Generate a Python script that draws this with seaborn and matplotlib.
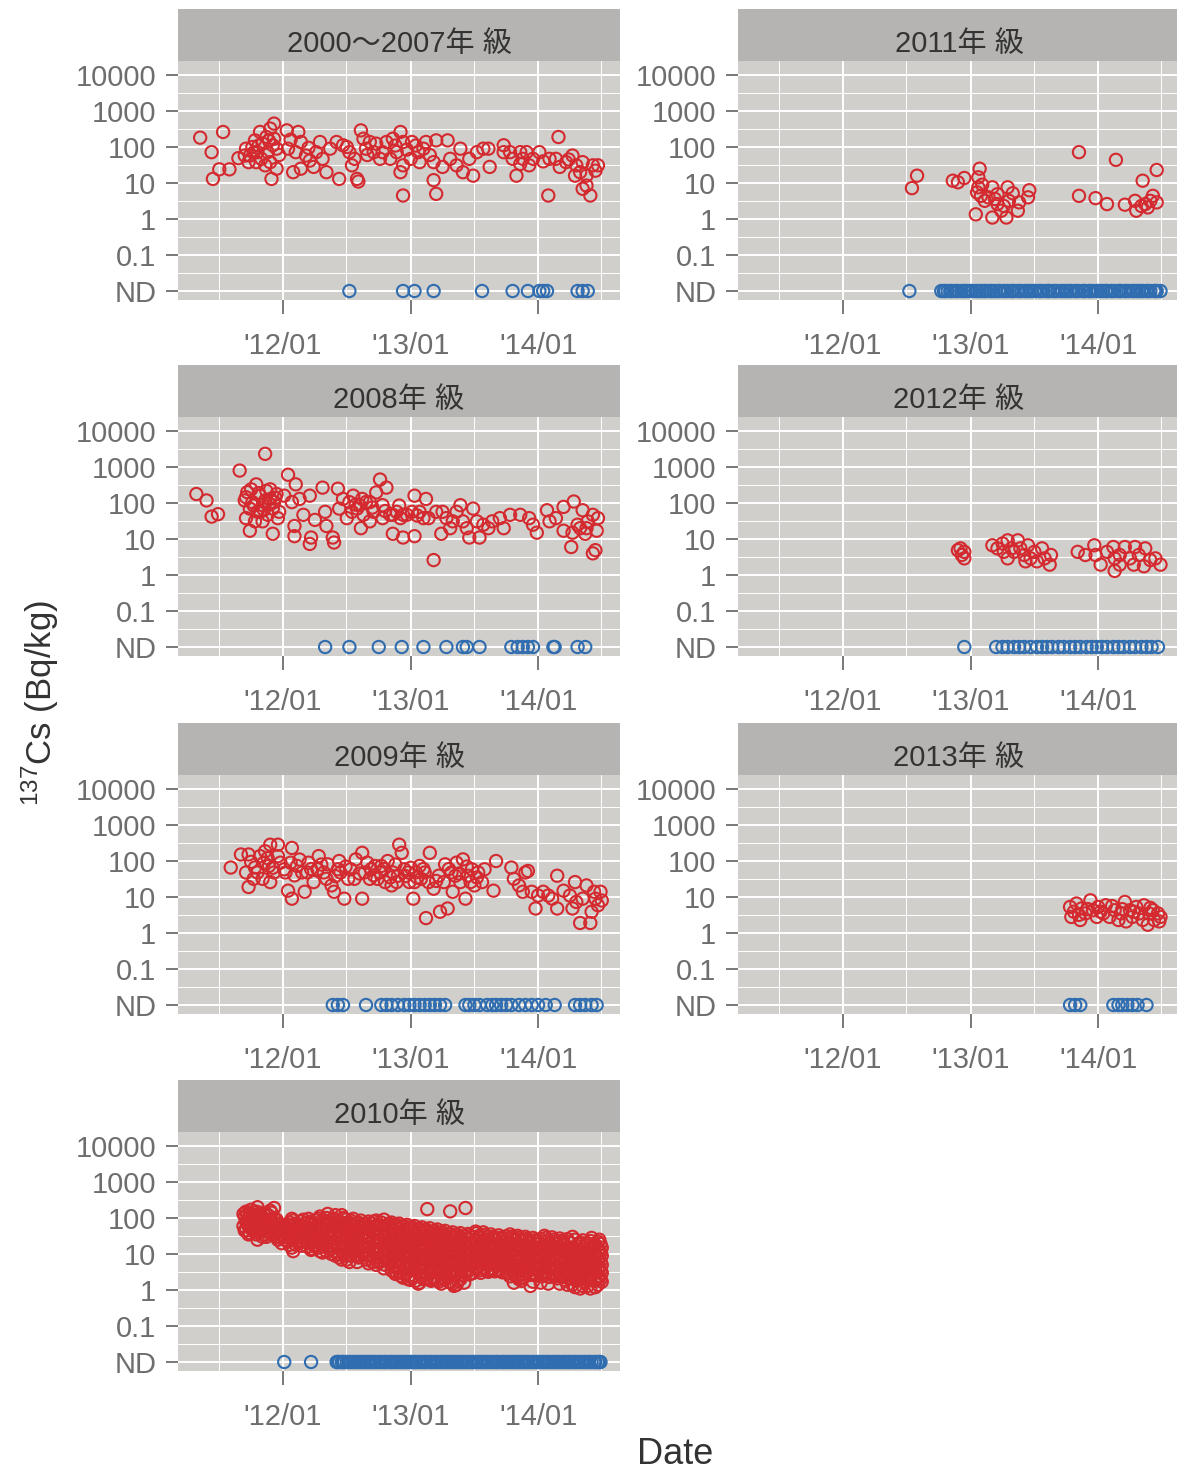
import numpy as np
import pandas as pd
import matplotlib
matplotlib.use("Agg")
import matplotlib.pyplot as plt
import matplotlib.dates as mdates
from matplotlib.ticker import FixedLocator, NullFormatter
import seaborn as sns

# ---------------- data (decimal year, Bq/kg) ----------------
ND_LEVEL = 0.01
panel_names = ["2000～2007年 級", "2008年 級", "2009年 級", "2010年 級",
               "2011年 級", "2012年 級", "2013年 級"]
y_ticks = [0.01, 0.1, 1, 10, 100, 1000, 10000]
y_tick_labels = ["ND", "0.1", "1", "10", "100", "1000", "10000"]

red_2000_2007 = [
    (2011.35, 182), (2011.53, 262), (2011.44, 72), (2011.45, 13), (2011.50, 24), (2011.58, 24),
    (2011.65, 49), (2011.71, 90), (2011.74, 58), (2011.78, 153), (2011.80, 72), (2011.82, 262),
    (2011.84, 124), (2011.87, 190), (2011.90, 325), (2011.93, 447), (2011.93, 170), (2011.95, 90),
    (2011.90, 38), (2011.91, 13), (2011.86, 31), (2011.79, 38), (2011.73, 38), (2011.95, 25),
    (2011.76, 100), (2011.83, 47), (2011.70, 58), (2011.88, 72), (2011.92, 112),
    (2012.03, 290), (2012.12, 262), (2012.04, 90), (2012.10, 72), (2012.14, 138), (2012.18, 58),
    (2012.21, 42), (2012.26, 72), (2012.29, 138), (2012.24, 28), (2012.08, 20), (2012.14, 25),
    (2012.34, 20), (2012.37, 90), (2012.42, 138), (2012.44, 13), (2012.47, 112), (2012.52, 72),
    (2012.54, 31), (2012.58, 13), (2012.59, 11), (2012.61, 290), (2012.63, 170), (2012.65, 90),
    (2012.68, 138), (2012.71, 72), (2012.73, 124), (2012.78, 72), (2012.81, 138), (2012.84, 47),
    (2012.86, 170), (2012.89, 72), (2012.92, 262), (2012.94, 138), (2012.94, 31), (2012.94, 4.5),
    (2012.92, 20), (2013.00, 47), (2013.01, 138), (2013.06, 72), (2013.10, 90), (2013.12, 138),
    (2013.18, 38), (2013.20, 153), (2013.18, 12), (2013.20, 5), (2013.25, 28), (2013.29, 153),
    (2013.31, 47), (2013.36, 31), (2013.39, 90), (2013.41, 20), (2013.46, 47), (2013.49, 16),
    (2013.52, 72), (2013.57, 90), (2013.61, 90), (2013.62, 28), (2013.73, 112), (2013.73, 72),
    (2013.78, 72), (2013.80, 47), (2013.83, 16), (2013.86, 72), (2013.88, 47), (2013.91, 72),
    (2013.93, 31), (2013.96, 47), (2014.01, 72), (2014.08, 4.5), (2014.16, 190), (2014.14, 47),
    (2014.17, 28), (2014.22, 38), (2014.27, 58), (2014.30, 31), (2014.33, 20), (2014.35, 38),
    (2014.38, 16), (2014.38, 8.5), (2014.41, 4.5), (2014.43, 31), (2014.47, 31), (2014.35, 6.9),
    (2014.29, 16), (2014.09, 47), (2012.76, 47), (2013.07, 38), (2013.86, 34), (2012.56, 47),
    (2012.31, 47), (2011.77, 70), (2011.81, 110), (2011.89, 150), (2011.97, 60), (2012.06, 160),
    (2012.20, 95), (2012.50, 100), (2012.66, 60), (2012.88, 110), (2012.97, 85), (2013.04, 110),
    (2013.15, 60), (2014.04, 40), (2014.24, 45), (2014.45, 22)]
nd_2000_2007 = [2012.52, 2012.94, 2013.03, 2013.18, 2013.56, 2013.80, 2013.92, 2014.01,
                2014.04, 2014.07, 2014.31, 2014.35, 2014.39]

red_2008 = [
    (2011.32, 178), (2011.40, 118), (2011.44, 42), (2011.49, 49), (2011.66, 798), (2011.86, 2323),
    (2011.71, 145), (2011.74, 70), (2011.74, 17), (2011.76, 106), (2011.79, 330), (2011.80, 57),
    (2011.82, 160), (2011.84, 87), (2011.87, 218), (2011.88, 47), (2011.90, 130), (2011.92, 70),
    (2011.92, 14), (2011.95, 178), (2011.96, 38), (2011.71, 38), (2011.78, 31), (2011.84, 31),
    (2012.01, 160), (2012.04, 611), (2012.07, 106), (2012.10, 330), (2012.09, 23), (2012.09, 12),
    (2012.13, 130), (2012.16, 47), (2012.21, 160), (2012.22, 11), (2012.21, 7.3), (2012.25, 34),
    (2012.31, 268), (2012.33, 57), (2012.34, 23), (2012.39, 11), (2012.40, 8), (2012.43, 250),
    (2012.44, 70), (2012.47, 130), (2012.50, 38), (2012.52, 106), (2012.55, 160), (2012.58, 70),
    (2012.60, 87), (2012.61, 20), (2012.63, 47), (2012.68, 106), (2012.71, 57), (2012.73, 197),
    (2012.76, 450), (2012.78, 87), (2012.81, 268), (2012.84, 47), (2012.86, 14), (2012.89, 57),
    (2012.92, 38), (2012.94, 11), (2012.97, 47), (2013.03, 160), (2013.03, 12), (2013.07, 57),
    (2013.12, 130), (2013.14, 38), (2013.18, 2.6), (2013.20, 57), (2013.24, 14), (2013.28, 38),
    (2013.31, 20), (2013.36, 57), (2013.39, 87), (2013.41, 31), (2013.44, 20), (2013.46, 11),
    (2013.49, 70), (2013.52, 31), (2013.54, 11), (2013.57, 25), (2013.61, 20), (2013.64, 31),
    (2013.70, 38), (2013.73, 20), (2013.78, 47), (2013.86, 47), (2013.93, 38), (2013.99, 15),
    (2013.96, 25), (2014.07, 63), (2014.09, 31), (2014.14, 38), (2014.20, 17), (2014.20, 78),
    (2014.26, 6), (2014.27, 15), (2014.28, 110), (2014.31, 25), (2014.35, 63), (2014.37, 14),
    (2014.39, 31), (2014.43, 47), (2014.45, 4.9), (2014.46, 17), (2014.47, 38), (2014.43, 4.0),
    (2014.38, 20), (2014.33, 20), (2011.70, 118), (2011.75, 240), (2011.82, 57), (2011.86, 118),
    (2011.90, 240), (2011.93, 106), (2011.97, 57), (2012.54, 57), (2012.65, 106), (2012.68, 31),
    (2012.78, 38), (2012.86, 47), (2012.94, 47), (2013.01, 57), (2013.10, 38), (2013.25, 57),
    (2013.33, 31), (2011.72, 200), (2011.77, 85), (2011.81, 190), (2011.85, 65), (2011.89, 95),
    (2011.94, 140), (2012.57, 90), (2012.62, 130), (2012.70, 75), (2012.80, 60), (2012.91, 85),
    (2013.05, 45)]
nd_2008 = [2012.33, 2012.52, 2012.75, 2012.93, 2013.10, 2013.28, 2013.41, 2013.44, 2013.54,
           2013.79, 2013.84, 2013.88, 2013.92, 2013.96, 2014.12, 2014.13, 2014.31, 2014.37]

red_2009 = [
    (2011.59, 66), (2011.67, 152), (2011.73, 152), (2011.71, 48), (2011.73, 19), (2011.78, 66),
    (2011.82, 137), (2011.86, 187), (2011.90, 284), (2011.96, 284), (2011.89, 73), (2011.93, 48),
    (2011.90, 26), (2011.84, 32), (2011.77, 32), (2011.98, 90), (2012.02, 48), (2012.04, 15),
    (2012.07, 231), (2012.07, 9), (2012.11, 73), (2012.15, 48), (2012.17, 14), (2012.20, 90),
    (2012.24, 26), (2012.28, 137), (2012.32, 48), (2012.35, 81), (2012.38, 21), (2012.40, 14),
    (2012.43, 59), (2012.44, 100), (2012.48, 9), (2012.51, 32), (2012.53, 59), (2012.57, 111),
    (2012.62, 169), (2012.62, 9), (2012.64, 48), (2012.68, 32), (2012.72, 73), (2012.76, 48),
    (2012.80, 26), (2012.82, 100), (2012.86, 48), (2012.89, 26), (2012.91, 284), (2012.93, 169),
    (2012.95, 59), (2012.99, 26), (2013.02, 9), (2013.04, 48), (2013.08, 32), (2013.11, 48),
    (2013.15, 169), (2013.12, 2.6), (2013.18, 17), (2013.22, 39), (2013.23, 3.9), (2013.27, 81),
    (2013.29, 4.8), (2013.32, 48), (2013.33, 14), (2013.36, 90), (2013.39, 26), (2013.41, 111),
    (2013.43, 9), (2013.45, 39), (2013.48, 59), (2013.50, 21), (2013.53, 48), (2013.56, 26),
    (2013.65, 15), (2013.67, 100), (2013.79, 66), (2013.81, 32), (2013.85, 21), (2013.90, 48),
    (2013.92, 53), (2013.88, 14), (2013.95, 14), (2013.98, 4.8), (2014.00, 11), (2014.04, 14),
    (2014.08, 11), (2014.11, 9), (2014.15, 39), (2014.15, 4.8), (2014.20, 15), (2014.25, 11),
    (2014.27, 4.8), (2014.29, 26), (2014.30, 7.3), (2014.33, 1.9), (2014.35, 9), (2014.38, 21),
    (2014.41, 1.9), (2014.42, 3.9), (2014.45, 9), (2014.47, 5.9), (2014.49, 14), (2014.44, 14),
    (2014.50, 8), (2011.80, 48), (2011.85, 90), (2011.96, 137), (2012.01, 59), (2012.06, 90),
    (2012.19, 48), (2012.27, 59), (2012.34, 32), (2012.45, 48), (2012.56, 32), (2012.69, 59),
    (2012.74, 32), (2012.77, 73), (2012.85, 21), (2012.90, 39), (2012.98, 48), (2013.03, 26),
    (2013.07, 73), (2013.14, 26), (2013.26, 26), (2013.35, 39), (2013.47, 26), (2013.58, 59),
    (2011.75, 95), (2011.88, 120), (2011.92, 65), (2012.09, 40), (2012.13, 110), (2012.22, 60),
    (2012.30, 80), (2012.41, 38), (2012.49, 70), (2012.60, 45), (2012.66, 90), (2012.71, 40),
    (2012.79, 60), (2012.84, 35), (2012.88, 80), (2012.96, 38), (2013.00, 65), (2013.05, 35),
    (2013.10, 60), (2013.20, 28), (2013.30, 60), (2013.38, 45), (2013.44, 70), (2013.52, 35)]
nd_2009 = [2012.39, 2012.43, 2012.47, 2012.65, 2012.77, 2012.81, 2012.85, 2012.90, 2012.95,
           2012.99, 2013.03, 2013.07, 2013.11, 2013.15, 2013.19, 2013.23, 2013.27, 2013.43,
           2013.46, 2013.50, 2013.54, 2013.60, 2013.64, 2013.67, 2013.71, 2013.75, 2013.79,
           2013.85, 2013.90, 2013.95, 2014.00, 2014.06, 2014.13, 2014.29, 2014.33, 2014.37,
           2014.42, 2014.46]

# 2010: several measurements per sampling date
red_2010 = [
    (2011.69, (130, 60)), (2011.71, (150, 80, 45)), (2011.73, (100, 60, 35)),
    (2011.75, (170, 90, 50)), (2011.78, (120, 70, 40)), (2011.80, (200, 110, 55, 25)),
    (2011.82, (140, 75, 45)), (2011.85, (95, 60, 35)), (2011.87, (130, 70, 30)),
    (2011.90, (160, 85, 50)), (2011.93, (190, 100, 45)), (2011.96, (70, 40, 25)),
    (2011.99, (55, 35, 20)), (2012.02, (60, 40, 25)), (2012.05, (75, 45, 28, 18)),
    (2012.08, (85, 50, 30, 12)), (2012.11, (60, 38, 22)), (2012.14, (80, 45, 30, 17)),
    (2012.17, (70, 42, 25)), (2012.20, (95, 55, 32, 20)), (2012.23, (65, 40, 24, 14)),
    (2012.26, (85, 50, 30, 18)), (2012.29, (110, 60, 35, 20, 12)), (2012.32, (75, 45, 27, 16)),
    (2012.35, (130, 70, 40, 22)), (2012.38, (90, 55, 30, 18, 10)), (2012.41, (120, 60, 35, 20, 9)),
    (2012.44, (80, 48, 28, 15, 8)), (2012.47, (100, 55, 32, 18, 10)), (2012.50, (70, 42, 25, 14, 7)),
    (2012.53, (85, 50, 30, 17, 9)), (2012.56, (65, 40, 22, 12)), (2012.59, (75, 45, 26, 15, 8)),
    (2012.62, (60, 36, 20, 11)), (2012.65, (70, 42, 24, 13, 7)), (2012.68, (55, 33, 19, 10)),
    (2012.71, (80, 45, 26, 14, 8)), (2012.74, (65, 38, 22, 12, 6)), (2012.77, (75, 42, 24, 13, 7)),
    (2012.80, (60, 35, 20, 11, 5)), (2012.83, (70, 40, 22, 12, 6)), (2012.86, (55, 32, 18, 10, 4.5)),
    (2012.89, (65, 36, 20, 11, 5, 3)), (2012.92, (50, 30, 17, 9, 4, 2.5)),
    (2012.95, (60, 34, 19, 10, 5, 2.8)), (2012.98, (45, 27, 15, 8, 4, 2)),
    (2013.01, (55, 30, 17, 9, 4.5, 2.2)), (2013.04, (40, 24, 13, 7, 3.5, 1.8)),
    (2013.07, (50, 28, 15, 8, 4, 1.6)), (2013.10, (42, 25, 14, 7, 3.5, 2)),
    (2013.13, (177, 45, 26, 14, 7, 3)), (2013.16, (38, 22, 12, 6, 3, 1.8)),
    (2013.19, (44, 25, 13, 7, 3.5, 2)), (2013.22, (35, 20, 11, 6, 3, 1.7)),
    (2013.25, (40, 23, 12, 6.5, 3.2, 2.2)), (2013.28, (32, 19, 10, 5.5, 2.8)),
    (2013.31, (153, 36, 20, 11, 6, 3, 1.6)), (2013.34, (30, 17, 9.5, 5, 2.5, 1.3)),
    (2013.37, (34, 19, 10, 5.5, 3, 1.8)), (2013.40, (28, 16, 9, 5, 2.6)),
    (2013.43, (190, 32, 18, 10, 5.5, 3)), (2013.46, (26, 15, 8.5, 4.8, 2.7)),
    (2013.49, (30, 17, 9.5, 5.2, 3)), (2013.52, (38, 22, 12, 7, 4)), (2013.55, (28, 16, 9, 5, 3)),
    (2013.58, (34, 20, 11, 6.5, 3.8)), (2013.61, (25, 15, 8.5, 5, 3.2)),
    (2013.64, (30, 18, 10, 6, 3.5)), (2013.67, (24, 14, 8, 4.8)), (2013.70, (28, 17, 10, 5.5, 3.4)),
    (2013.73, (22, 13, 7.5, 4.5)), (2013.76, (26, 15, 9, 5.2, 3)), (2013.79, (30, 18, 10, 5.8, 3.5)),
    (2013.82, (24, 14, 8, 4.5, 2.5)), (2013.85, (28, 16, 9, 5, 2)), (2013.88, (22, 13, 7.5, 4, 2.2)),
    (2013.91, (26, 15, 8.5, 4.8, 3)), (2013.94, (20, 12, 7, 4, 1.3)), (2013.97, (24, 14, 8, 4.5, 2.6)),
    (2014.00, (19, 11, 6.5, 3.8)), (2014.03, (22, 13, 7.5, 4.2, 2.4)), (2014.06, (28, 16, 9, 5, 2.8)),
    (2014.09, (20, 12, 7, 4, 2.3)), (2014.12, (25, 14, 8, 4.5, 2.5)), (2014.15, (19, 11, 6.5, 3.7, 2.1)),
    (2014.18, (23, 13, 7.5, 4.2, 2.4)), (2014.21, (18, 10, 6, 3.5, 1.9)), (2014.24, (22, 12, 7, 4, 2.2)),
    (2014.27, (30, 14, 8, 4.5, 2.5, 1.4)), (2014.30, (17, 10, 5.8, 3.3, 1.8)),
    (2014.33, (21, 12, 6.8, 3.9, 2.2, 1.1)), (2014.36, (16, 9.5, 5.5, 3.1, 1.7)),
    (2014.39, (20, 11, 6.5, 3.7, 2.1, 1.3)), (2014.42, (28, 15, 8.5, 4.8, 2.7)),
    (2014.45, (18, 10, 6, 3.4, 1.9, 1.2)), (2014.48, (25, 13, 7.5, 4.2, 2.3)),
    (2014.50, (15, 9, 5, 3, 1.7))]
red_2010_more = [
    (2011.70, (110, 45)), (2011.72, (125, 70)), (2011.74, (140, 55, 38)), (2011.77, (110, 65)),
    (2011.79, (150, 85, 35)), (2011.81, (120, 60)), (2011.84, (105, 50, 30)), (2011.86, (85, 45)),
    (2011.89, (115, 65, 40)), (2011.91, (140, 75, 35)), (2011.95, (90, 55, 30)),
    (2011.98, (65, 45, 28)), (2012.00, (50, 30)), (2012.04, (65, 50, 33, 22)),
    (2012.07, (95, 60, 38, 15)), (2012.10, (70, 45, 28, 18)), (2012.13, (65, 52, 35, 21)),
    (2012.16, (90, 58, 36, 22)), (2012.19, (75, 48, 28, 16)), (2012.22, (80, 50, 35, 22, 13)),
    (2012.25, (70, 44, 26, 16)), (2012.28, (95, 58, 40, 25, 15)), (2012.31, (85, 52, 32, 19, 11)),
    (2012.34, (100, 62, 35, 20, 12)), (2012.37, (75, 45, 26, 14)), (2012.40, (95, 58, 38, 22, 12)),
    (2012.43, (70, 42, 26, 15, 10)), (2012.46, (120, 75, 40, 22, 12, 7)),
    (2012.49, (90, 52, 30, 17, 9)), (2012.52, (75, 40, 22, 12, 6)), (2012.55, (95, 60, 35, 20, 11)),
    (2012.58, (70, 48, 28, 16, 9, 6)), (2012.61, (85, 52, 30, 17, 9)), (2012.64, (65, 40, 23, 13, 8)),
    (2012.67, (80, 48, 28, 16, 9, 5.5)), (2012.70, (70, 40, 22, 12, 6)),
    (2012.73, (85, 50, 30, 17, 10, 5)), (2012.76, (60, 35, 20, 11, 6)),
    (2012.79, (90, 50, 28, 15, 8, 4)), (2012.82, (65, 38, 21, 12, 6.5)),
    (2012.85, (75, 45, 26, 14, 7, 3.5)), (2012.88, (60, 34, 19, 10, 5, 2.8)),
    (2012.91, (70, 40, 23, 12, 6, 3.2)), (2012.94, (55, 32, 18, 9.5, 4.8, 2.2)),
    (2012.97, (65, 38, 21, 11, 5.5, 3)), (2013.00, (50, 28, 16, 8.5, 4, 1.9)),
    (2013.03, (60, 34, 19, 10, 5, 2.5)), (2013.06, (45, 26, 14, 7.5, 3.8, 1.5)),
    (2013.09, (55, 31, 17, 9, 4.5, 2.3)), (2013.12, (48, 28, 15, 8, 4, 2.1)),
    (2013.15, (52, 30, 16, 8.5, 4.2, 2)), (2013.18, (42, 24, 13, 7, 3.6, 2.2)),
    (2013.21, (48, 27, 14, 7.5, 4, 1.9)), (2013.24, (38, 22, 12, 6.5, 3.4, 1.5)),
    (2013.27, (44, 25, 13, 7, 3.8, 2)), (2013.30, (36, 21, 11, 6, 3.2, 1.7)),
    (2013.33, (40, 23, 12, 6.5, 3.5, 1.5)), (2013.36, (33, 19, 10.5, 5.8, 3.1, 1.4)),
    (2013.39, (38, 21, 11.5, 6.2, 3.4, 2)), (2013.42, (31, 18, 10, 5.5, 3, 1.6)),
    (2013.45, (36, 20, 11, 6, 3.3)), (2013.48, (29, 17, 9.5, 5.2, 2.9)),
    (2013.51, (42, 25, 14, 8, 4.5)), (2013.54, (32, 19, 10.5, 6, 3.5)),
    (2013.57, (40, 23, 13, 7.5, 4.2)), (2013.60, (30, 18, 10, 5.8, 3.4)),
    (2013.63, (35, 21, 12, 7, 4)), (2013.66, (28, 16, 9.5, 5.5, 3.3)),
    (2013.69, (33, 19, 11, 6.2, 3.7)), (2013.72, (26, 15, 9, 5.2, 3.1)),
    (2013.75, (31, 18, 10.5, 6, 3.5)), (2013.78, (35, 20, 11.5, 6.5, 3.8, 2.4)),
    (2013.81, (27, 16, 9.2, 5.3, 3.1, 1.6)), (2013.84, (32, 18, 10.5, 6, 3.4, 2.3)),
    (2013.87, (25, 15, 8.5, 4.8, 2.8, 1.8)), (2013.90, (30, 17, 9.8, 5.6, 3.2)),
    (2013.93, (23, 14, 8, 4.5, 2.6)), (2013.96, (28, 16, 9.2, 5.2, 3, 1.7)),
    (2013.99, (22, 13, 7.5, 4.3, 2.5)), (2014.02, (26, 15, 8.6, 4.9, 2.8, 1.6)),
    (2014.05, (32, 18, 10, 5.8, 3.3)), (2014.08, (24, 14, 8, 4.6, 2.7, 1.5)),
    (2014.11, (29, 16, 9.2, 5.2, 3)), (2014.14, (22, 13, 7.5, 4.3, 2.4)),
    (2014.17, (27, 15, 8.6, 4.9, 2.8, 1.5)), (2014.20, (21, 12, 7, 4, 2.3)),
    (2014.23, (26, 14, 8.2, 4.6, 2.6, 1.4)), (2014.26, (20, 11.5, 6.6, 3.8, 2.1)),
    (2014.29, (25, 13, 7.6, 4.3, 2.4, 1.2)), (2014.32, (19, 11, 6.3, 3.6, 2)),
    (2014.35, (24, 13, 7.3, 4.1, 2.3, 1.3)), (2014.38, (18, 10.5, 6, 3.4, 1.9)),
    (2014.41, (23, 12.5, 7.2, 4, 2.3, 1.1)), (2014.44, (17, 10, 5.7, 3.2, 1.8)),
    (2014.47, (22, 12, 7, 3.9, 2.2, 1.4)), (2014.49, (19, 11, 6.2, 3.5, 2))]
nd_2010 = [2012.01, 2012.22, 2012.42, 2012.44, 2012.47, 2012.48, 2012.50, 2012.53, 2012.55,
           2012.56, 2012.58, 2012.61, 2012.63, 2012.64, 2012.66, 2012.69, 2012.71, 2012.72,
           2012.74, 2012.77, 2012.79, 2012.80, 2012.82, 2012.85, 2012.87, 2012.88, 2012.90,
           2012.93, 2012.95, 2012.96, 2012.98, 2013.01, 2013.03, 2013.04, 2013.06, 2013.09,
           2013.11, 2013.12, 2013.14, 2013.17, 2013.19, 2013.20, 2013.22, 2013.25, 2013.27,
           2013.28, 2013.30, 2013.33, 2013.35, 2013.36, 2013.38, 2013.41, 2013.43, 2013.44,
           2013.46, 2013.49, 2013.51, 2013.52, 2013.54, 2013.57, 2013.59, 2013.60, 2013.62,
           2013.65, 2013.67, 2013.68, 2013.70, 2013.73, 2013.75, 2013.76, 2013.78, 2013.81,
           2013.83, 2013.84, 2013.86, 2013.89, 2013.91, 2013.92, 2013.94, 2013.97, 2013.99,
           2014.00, 2014.02, 2014.05, 2014.07, 2014.08, 2014.10, 2014.13, 2014.15, 2014.16,
           2014.18, 2014.21, 2014.23, 2014.24, 2014.26, 2014.29, 2014.31, 2014.32, 2014.34,
           2014.37, 2014.39, 2014.40, 2014.42, 2014.45, 2014.47, 2014.48, 2014.49,
           2012.43, 2012.46, 2012.52, 2012.60, 2012.68, 2012.76, 2012.84, 2012.92, 2013.00,
           2013.08, 2013.16, 2013.24, 2013.32, 2013.40, 2013.48, 2013.56, 2013.64, 2013.72,
           2013.80, 2013.88, 2013.96, 2014.04, 2014.12, 2014.20, 2014.28, 2014.36, 2014.44]

red_2011 = [
    (2012.54, 7.2), (2012.58, 16), (2012.86, 11.6), (2012.90, 10.5), (2012.95, 13.8),
    (2013.07, 25), (2013.06, 14.4), (2013.06, 7.6), (2013.04, 1.35), (2013.08, 4.4),
    (2013.11, 3.2), (2013.17, 7.6), (2013.17, 1.1), (2013.21, 2.6), (2013.24, 1.7),
    (2013.29, 7.6), (2013.30, 3.2), (2013.28, 1.1), (2013.37, 1.7), (2013.38, 2.9),
    (2013.45, 4.0), (2013.46, 6.3), (2013.14, 4.0), (2013.21, 4.9), (2013.26, 2.3),
    (2013.85, 72), (2013.85, 4.4), (2013.98, 3.8), (2014.07, 2.6), (2014.14, 44),
    (2014.21, 2.5), (2014.29, 3.2), (2014.30, 1.7), (2014.35, 11.6), (2014.37, 2.6),
    (2014.39, 2.1), (2014.46, 23), (2014.43, 4.4), (2014.46, 2.9), (2014.41, 3.2),
    (2014.34, 2.3), (2013.05, 5.5), (2013.09, 9), (2013.19, 3.6), (2013.33, 5.2)]
nd_2011 = [2012.52, 2012.77, 2012.79, 2012.82, 2012.85, 2012.87, 2012.90, 2012.93, 2012.96,
           2012.98, 2013.01, 2013.04, 2013.07, 2013.09, 2013.12, 2013.15, 2013.18, 2013.20,
           2013.23, 2013.26, 2013.29, 2013.32, 2013.34, 2013.37, 2013.40, 2013.43, 2013.46,
           2013.48, 2013.51, 2013.54, 2013.57, 2013.60, 2013.62, 2013.65, 2013.68, 2013.71,
           2013.74, 2013.76, 2013.79, 2013.82, 2013.85, 2013.88, 2013.90, 2013.93, 2013.96,
           2013.99, 2014.02, 2014.04, 2014.07, 2014.10, 2014.13, 2014.16, 2014.18, 2014.21,
           2014.24, 2014.27, 2014.30, 2014.32, 2014.35, 2014.38, 2014.41, 2014.44, 2014.46,
           2014.49, 2012.80, 2012.84, 2012.89, 2012.95, 2013.00, 2013.05, 2013.11, 2013.16,
           2013.22, 2013.27, 2013.33, 2013.38, 2013.44, 2013.50, 2013.55, 2013.61, 2013.66,
           2013.72, 2013.78, 2013.83, 2013.89, 2013.94, 2014.00, 2014.06, 2014.11, 2014.17,
           2014.22, 2014.28, 2014.34, 2014.39, 2014.45]

red_2012 = [
    (2012.90, 4.9), (2012.93, 3.6), (2012.95, 4.4), (2012.95, 2.9), (2012.92, 5.5),
    (2013.17, 6.7), (2013.21, 5.5), (2013.25, 7.5), (2013.29, 9.2), (2013.32, 5.5),
    (2013.29, 2.9), (2013.34, 4.4), (2013.37, 9.2), (2013.39, 5.5), (2013.42, 3.6),
    (2013.45, 6.7), (2013.47, 2.9), (2013.50, 4.4), (2013.52, 2.4), (2013.56, 5.5),
    (2013.58, 2.9), (2013.62, 1.94), (2013.63, 3.6), (2013.26, 4.4), (2013.43, 2.4),
    (2013.84, 4.4), (2013.90, 3.6), (2013.97, 6.7), (2013.98, 3.6), (2014.02, 1.94),
    (2014.07, 4.4), (2014.12, 6.0), (2014.13, 2.9), (2014.13, 1.3), (2014.17, 3.6),
    (2014.21, 6.0), (2014.25, 2.9), (2014.29, 6.0), (2014.32, 3.6), (2014.36, 1.75),
    (2014.37, 5.5), (2014.41, 2.6), (2014.45, 2.9), (2014.49, 1.94), (2014.17, 1.94),
    (2014.28, 1.94)]
nd_2012 = [2012.95, 2013.20, 2013.25, 2013.29, 2013.34, 2013.38, 2013.42, 2013.47, 2013.52,
           2013.56, 2013.60, 2013.64, 2013.69, 2013.73, 2013.78, 2013.82, 2013.86, 2013.91,
           2013.95, 2013.99, 2014.03, 2014.07, 2014.12, 2014.16, 2014.20, 2014.25, 2014.29,
           2014.34, 2014.38, 2014.42, 2014.47]

red_2013 = [
    (2013.78, 5.3), (2013.79, 2.8), (2013.81, 3.9), (2013.83, 6.6), (2013.86, 2.3),
    (2013.87, 4.8), (2013.90, 3.5), (2013.94, 8.1), (2013.96, 4.3), (2013.99, 2.8),
    (2014.00, 5.3), (2014.04, 3.5), (2014.06, 5.9), (2014.09, 2.8), (2014.13, 4.3),
    (2014.16, 2.3), (2014.18, 3.5), (2014.21, 7.3), (2014.22, 2.1), (2014.25, 4.3),
    (2014.27, 2.8), (2014.30, 5.3), (2014.32, 3.5), (2014.35, 2.3), (2014.36, 5.9),
    (2014.39, 1.7), (2014.40, 3.5), (2014.43, 4.3), (2014.44, 2.3), (2014.47, 3.5),
    (2014.48, 2.1), (2014.49, 2.8), (2013.85, 3.2), (2013.92, 4.6), (2014.02, 3.9),
    (2014.11, 5.6), (2014.19, 4.6), (2014.28, 3.9), (2014.41, 5.0)]
nd_2013 = [2013.78, 2013.82, 2013.86, 2014.12, 2014.16, 2014.19, 2014.23, 2014.27, 2014.31,
           2014.38]

# ---------------- assemble ----------------
def dec2date(y):
    yi = int(np.floor(y))
    start = pd.Timestamp(yi, 1, 1)
    end = pd.Timestamp(yi + 1, 1, 1)
    return start + (end - start) * (y - yi)

rows = []
def add_pairs(name, pairs):
    for d, v in pairs:
        rows.append((name, dec2date(d), v, "det"))
def add_groups(name, groups):
    for d, vs in groups:
        for v in vs:
            rows.append((name, dec2date(d), v, "det"))
def add_nd(name, dates):
    for d in dates:
        rows.append((name, dec2date(d), ND_LEVEL, "nd"))

add_pairs(panel_names[0], red_2000_2007); add_nd(panel_names[0], nd_2000_2007)
add_pairs(panel_names[1], red_2008); add_nd(panel_names[1], nd_2008)
add_pairs(panel_names[2], red_2009); add_nd(panel_names[2], nd_2009)
add_groups(panel_names[3], red_2010); add_groups(panel_names[3], red_2010_more)
add_nd(panel_names[3], nd_2010)
add_pairs(panel_names[4], red_2011); add_nd(panel_names[4], nd_2011)
add_pairs(panel_names[5], red_2012); add_nd(panel_names[5], nd_2012)
add_pairs(panel_names[6], red_2013); add_nd(panel_names[6], nd_2013)
df = pd.DataFrame(rows, columns=["panel", "date", "value", "status"])

# ---------------- style ----------------
sns.set_theme(style="ticks")
plt.rcParams["font.family"] = ["Liberation Sans", "Noto Sans CJK JP", "DejaVu Sans"]
plt.rcParams["mathtext.fontset"] = "custom"
plt.rcParams["mathtext.rm"] = "Liberation Sans"
plt.rcParams["mathtext.it"] = "Liberation Sans"

W, H = 1177, 1473
fig = plt.figure(figsize=(W / 100, H / 100), dpi=100)
fig.patch.set_facecolor("white")

PANEL_BG = "#d0cfcc"
STRIP_BG = "#b6b4b3"
RED = "#d42a2f"
BLUE = "#2f6db0"
TICK_LABEL = "#6e6e6e"

col_left = [178, 738]
panel_w = 442
row_top = [61, 417, 775, 1132]
panel_h = 239
strip_h = 52
layout = {panel_names[0]: (0, 0), panel_names[1]: (0, 1), panel_names[2]: (0, 2),
          panel_names[3]: (0, 3), panel_names[4]: (1, 0), panel_names[5]: (1, 1),
          panel_names[6]: (1, 2)}

xmin, xmax = dec2date(2011.176), dec2date(2014.643)
ylo, yhi = 10 ** -2.25, 10 ** 4.39

for name, (c, r) in layout.items():
    l = col_left[c] / W
    b = 1 - (row_top[r] + panel_h) / H
    ax = fig.add_axes([l, b, panel_w / W, panel_h / H])
    ax.set_facecolor(PANEL_BG)
    sub = df[df.panel == name]
    sns.scatterplot(data=sub[sub.status == "det"], x="date", y="value", ax=ax,
                    facecolor="none", edgecolor=RED, s=78, linewidth=1.5, legend=False)
    sns.scatterplot(data=sub[sub.status == "nd"], x="date", y="value", ax=ax,
                    facecolor="none", edgecolor=BLUE, s=78, linewidth=1.5, legend=False)
    ax.set_yscale("log")
    ax.set_ylim(ylo, yhi)
    ax.set_xlim(xmin, xmax)
    ax.yaxis.set_major_locator(FixedLocator(y_ticks))
    ax.set_yticklabels(y_tick_labels)
    ax.yaxis.set_minor_locator(FixedLocator([10 ** (k + 0.5) for k in range(-3, 5)]))
    ax.yaxis.set_minor_formatter(NullFormatter())
    ax.xaxis.set_major_locator(mdates.YearLocator())
    ax.xaxis.set_major_formatter(mdates.DateFormatter("'%y/%m"))
    ax.xaxis.set_minor_locator(mdates.MonthLocator(bymonth=7))
    ax.xaxis.set_minor_formatter(NullFormatter())
    ax.set_axisbelow(True)
    ax.grid(which="major", color="white", linewidth=1.4)
    ax.grid(which="minor", color="white", linewidth=0.7)
    ax.tick_params(which="minor", length=0)
    ax.tick_params(axis="y", which="major", left=True, length=8.6, width=1.1,
                   color="#555555", pad=7, labelsize=21, labelcolor=TICK_LABEL)
    ax.tick_params(axis="x", which="major", bottom=True, length=10, width=1.1,
                   color="#555555", pad=13, labelsize=21, labelcolor=TICK_LABEL)
    for s in ax.spines.values():
        s.set_visible(False)
    ax.set_xlabel("")
    ax.set_ylabel("")

    sax = fig.add_axes([l, 1 - row_top[r] / H, panel_w / W, strip_h / H])
    sax.set_facecolor(STRIP_BG)
    sax.set_xticks([])
    sax.set_yticks([])
    for s in sax.spines.values():
        s.set_visible(False)
    sax.text(0.5, 0.17, name, ha="center", va="baseline", fontsize=21,
             color="#333333", transform=sax.transAxes)

fig.text(675 / W, 1 - 1455 / H, "Date", ha="center", va="center", fontsize=26, color="#333333")
fig.text(40 / W, 1 - 703 / H, r"$^{137}$Cs (Bq/kg)", rotation=90, ha="center", va="center",
         fontsize=25, color="#333333")

fig.savefig("out.png", dpi=100)
